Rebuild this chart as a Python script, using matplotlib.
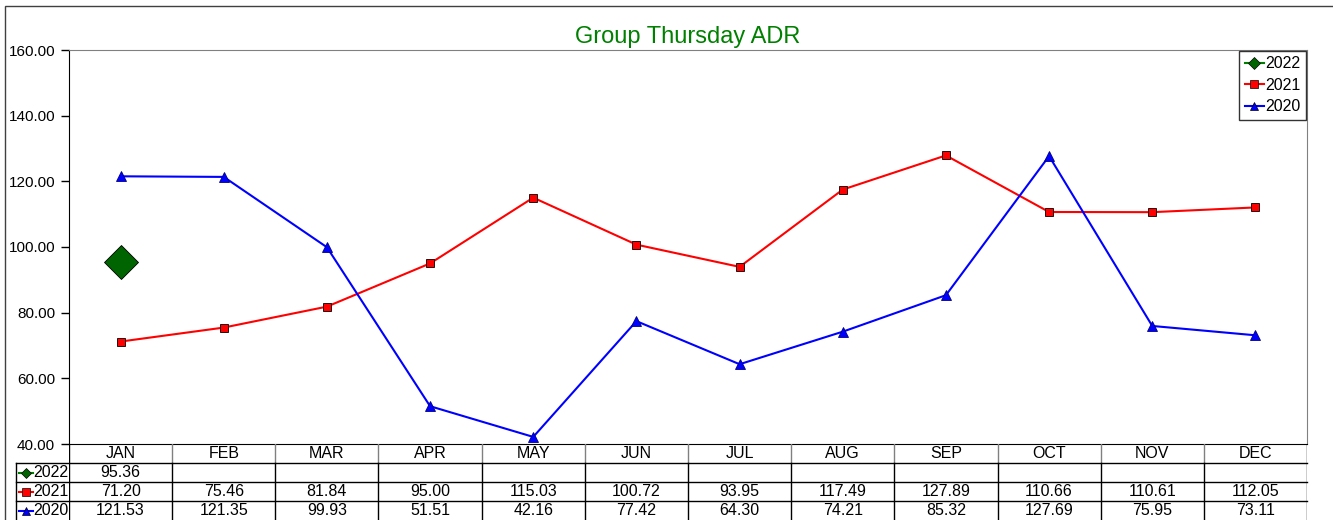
import matplotlib.pyplot as plt
from matplotlib.lines import Line2D
from matplotlib.patches import Rectangle

plt.rcParams["font.family"] = ["Liberation Sans", "DejaVu Sans"]

MONTHS = ["JAN", "FEB", "MAR", "APR", "MAY", "JUN",
          "JUL", "AUG", "SEP", "OCT", "NOV", "DEC"]
ADR_2022 = [95.36]
ADR_2021 = [71.20, 75.46, 81.84, 95.00, 115.03, 100.72,
            93.95, 117.49, 127.89, 110.66, 110.61, 112.05]
ADR_2020 = [121.53, 121.35, 99.93, 51.51, 42.16, 77.42,
            64.30, 74.21, 85.32, 127.69, 75.95, 73.11]

W, H = 1333, 520
fig = plt.figure(figsize=(W / 100, H / 100), dpi=100)


def px(x0, y0, x1, y1):
    """Pixel box (top-left origin) -> figure fraction rect."""
    return [x0 / W, 1 - y1 / H, (x1 - x0) / W, (y1 - y0) / H]


# chart frame
fig.patches.append(Rectangle((5 / W, -0.01), 1.1, 1 - 6 / H + 0.01,
                             transform=fig.transFigure, fill=False,
                             edgecolor="#404040", linewidth=1))

ax = fig.add_axes(px(69, 50, 1307, 444))
x = list(range(len(MONTHS)))

series = [
    ("2022", ADR_2022, "#008000", "D", 17, "#006400"),
    ("2021", ADR_2021, "#ff0000", "s", 6, "#ff0000"),
    ("2020", ADR_2020, "#0000ff", "^", 6.5, "#0000ff"),
]
for name, vals, color, mk, ms, fc in series:
    ax.plot(x[:len(vals)], vals, color=color, lw=1.5, marker=mk, ms=ms,
            markerfacecolor=fc, markeredgecolor="black" if mk != "^" else "#000080",
            markeredgewidth=0.6, label=name)

ax.set_xlim(-0.5, 11.5)
ax.set_ylim(40, 160)
ax.set_yticks(range(40, 161, 20))
ax.set_yticklabels([f"{v:.2f}" for v in range(40, 161, 20)], fontsize=11)
ax.tick_params(axis="y", direction="out", length=6, width=1, pad=4)
ax.set_xticks([])
for side in ["top", "right"]:
    ax.spines[side].set_color("#808080")
ax.set_title("Group Thursday ADR", color="#008000", fontsize=17, pad=5)

# legend, hand-built so the marker styling follows the lines
handles = [Line2D([], [], color=c, marker=m, ms=6,
                  markerfacecolor=fc, markeredgecolor="black", markeredgewidth=0.5,
                  lw=1.5)
           for _, _, c, m, _, fc in series]
leg = ax.legend(handles, [s[0] for s in series], loc="upper right",
                bbox_to_anchor=(1.0, 1.0), fontsize=11.5, frameon=True,
                fancybox=False, edgecolor="black", handlelength=1.2,
                handletextpad=0.1, borderpad=0.35, labelspacing=0.4,
                borderaxespad=0.05)
leg.get_frame().set_linewidth(1)

# data table below the plot
tab = fig.add_axes(px(69, 444, 1307, 520), sharex=ax)
tab.set_ylim(4, 0)
tab.axis("off")
left = -0.5 - (69 - 16) / ((1307 - 69) / 12)

for i, m in enumerate(MONTHS):
    tab.text(i, 0.48, m, ha="center", va="center", fontsize=11.5)
for k in range(1, 12):
    tab.plot([k - 0.5, k - 0.5], [0, 1], color="#808080", lw=1)
    tab.plot([k - 0.5, k - 0.5], [1, 4], color="black", lw=1)
tab.plot([-0.5, -0.5], [0, 4], color="black", lw=1)
tab.plot([11.5, 11.5], [0, 4], color="black", lw=1)
tab.plot([left, left], [1, 4], color="black", lw=1, clip_on=False)
for r in [1, 2, 3]:
    tab.plot([left, 11.5], [r, r], color="black", lw=1, clip_on=False)

for r, (name, vals, color, mk, _, fc) in enumerate(series, start=1):
    y = r + 0.5
    tab.plot([left + 0.03, left + 0.16], [y, y], color=color, lw=1.5, clip_on=False)
    tab.plot([left + 0.095], [y], marker=mk, ms=5.5, color=color,
             markerfacecolor=fc, markeredgecolor="black", markeredgewidth=0.5,
             clip_on=False)
    tab.text(left + 0.165, y, name, ha="left", va="center", fontsize=11.5)
    for i, v in enumerate(vals):
        tab.text(i, y, f"{v:.2f}", ha="center", va="center", fontsize=11.5)

fig.savefig("out.png", dpi=100)
